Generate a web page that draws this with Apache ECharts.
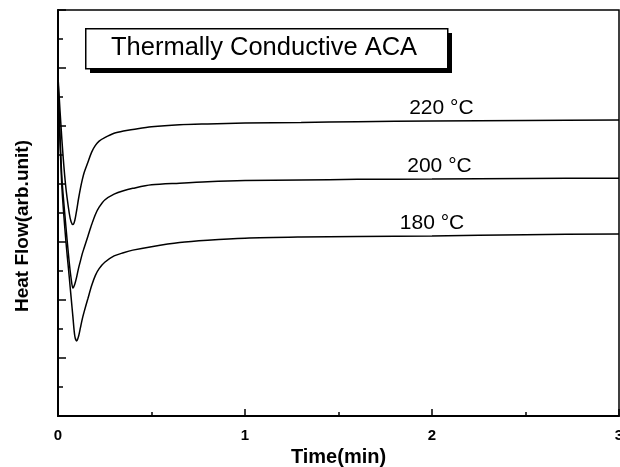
<!DOCTYPE html>
<html>
<head>
<meta charset="utf-8">
<script src="https://cdn.jsdelivr.net/npm/echarts@6/dist/echarts.min.js"></script>
<style>
  html, body { margin: 0; padding: 0; background: #fff; }
  #chart { width: 620px; height: 467px; }
</style>
</head>
<body>
<div id="chart"></div>
<script>
// time axis (min), shared by the three curves
const times = [0, 0.02, 0.04, 0.06, 0.07, 0.08, 0.09, 0.1, 0.11, 0.12, 0.13, 0.14, 0.16, 0.18, 0.2, 0.22, 0.25, 0.3, 0.35, 0.4, 0.5, 0.65, 0.8, 1.0, 1.3, 1.6, 2.0, 2.5, 3.0]
const flow220 = [11.7, 9.6, 8.0, 7.0, 6.7, 6.6, 6.75, 7.1, 7.5, 7.85, 8.15, 8.4, 8.75, 9.1, 9.33, 9.48, 9.6, 9.75, 9.83, 9.88, 9.97, 10.04, 10.07, 10.1, 10.12, 10.15, 10.17, 10.19, 10.21]
const flow200 = [11.7, 8.3, 6.7, 5.3, 4.75, 4.41, 4.55, 4.8, 5.1, 5.35, 5.6, 5.8, 6.2, 6.6, 6.95, 7.2, 7.45, 7.65, 7.77, 7.85, 7.97, 8.03, 8.08, 8.12, 8.14, 8.16, 8.17, 8.19, 8.2]
const flow180 = [11.5, 8.0, 6.2, 4.8, 4.1, 3.4, 2.75, 2.59, 2.75, 3.05, 3.35, 3.6, 4.05, 4.5, 4.85, 5.08, 5.3, 5.52, 5.63, 5.72, 5.84, 5.98, 6.06, 6.13, 6.17, 6.19, 6.21, 6.25, 6.28]
const seriesNames = ['220 °C', '200 °C', '180 °C']
const labelTimes = [2.05, 2.04, 2.0]
const titleText = 'Thermally Conductive ACA'

const font = "'Liberation Sans', Arial, sans-serif"
const chart = echarts.init(document.getElementById('chart'))

function makeSeries(name, values, labelT) {
  const pts = times.map((t, i) => [t, values[i]])
  // value of the curve at the time nearest to the label
  let idx = 0
  times.forEach((t, i) => { if (Math.abs(t - labelT) < Math.abs(times[idx] - labelT)) idx = i })
  return {
    name: name,
    type: 'line',
    data: pts,
    showSymbol: false,
    smooth: 0.3,
    lineStyle: { color: '#000', width: 1.5 },
    markPoint: {
      symbol: 'circle',
      symbolSize: 0,
      data: [{ coord: [labelT, values[idx]] }],
      label: {
        show: true,
        position: 'top',
        distance: 2,
        formatter: name,
        color: '#000',
        fontFamily: font,
        fontSize: 21
      }
    }
  }
}

const option = {
  animation: false,
  backgroundColor: '#fff',
  grid: {
    left: 58, right: 1, top: 10, bottom: 51,
    containLabel: false,
    outerBoundsMode: 'none',
    show: true,
    borderColor: '#000',
    borderWidth: 1.5
  },
  xAxis: {
    type: 'value',
    min: 0, max: 3, interval: 1,
    name: 'Time(min)',
    nameLocation: 'middle',
    nameGap: 25,
    nameTextStyle: { fontFamily: font, fontSize: 20, fontWeight: 'bold', color: '#000' },
    axisLine: { lineStyle: { color: '#000', width: 2 } },
    axisTick: { inside: true, length: 7, lineStyle: { color: '#000', width: 1.5 } },
    minorTick: { show: true, splitNumber: 2, length: 4, lineStyle: { color: '#000', width: 1.5 } },
    axisLabel: { fontFamily: font, fontSize: 15, fontWeight: 'bold', color: '#000', margin: 12 },
    splitLine: { show: false }
  },
  yAxis: {
    type: 'value',
    min: 0, max: 14, interval: 2,
    name: 'Heat Flow(arb.unit)',
    nameLocation: 'middle',
    nameGap: 26,
    nameTextStyle: { fontFamily: font, fontSize: 19, fontWeight: 'bold', color: '#000', padding: [0, 26, 0, 0] },
    axisLine: { lineStyle: { color: '#000', width: 2 } },
    axisTick: { inside: true, length: 8, lineStyle: { color: '#000', width: 1.5 } },
    minorTick: { show: true, splitNumber: 2, length: 5, lineStyle: { color: '#000', width: 1.5 } },
    axisLabel: { show: false },
    splitLine: { show: false }
  },
  graphic: [
    {
      // drop shadow of the title box
      type: 'rect',
      left: 90, top: 33,
      shape: { width: 362, height: 40 },
      style: { fill: '#000' },
      z: 10
    },
    {
      type: 'rect',
      left: 85, top: 28,
      shape: { width: 362, height: 40 },
      style: { fill: '#fff', stroke: '#000', lineWidth: 1.5 },
      z: 11
    },
    {
      type: 'text',
      left: 111, top: 35,
      style: { text: titleText, fill: '#000', font: '25.5px ' + font },
      z: 12
    }
  ],
  series: [
    makeSeries(seriesNames[0], flow220, labelTimes[0]),
    makeSeries(seriesNames[1], flow200, labelTimes[1]),
    makeSeries(seriesNames[2], flow180, labelTimes[2])
  ]
}
chart.setOption(option)
</script>
</body>
</html>
